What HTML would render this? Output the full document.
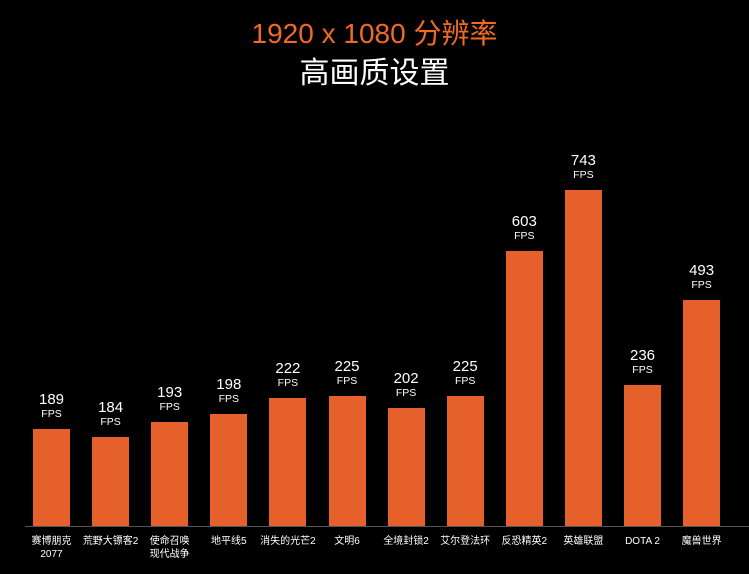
<!DOCTYPE html>
<html><head><meta charset="utf-8"><style>
body{margin:0;width:749px;height:574px;background:#000;position:relative;overflow:hidden;font-family:"Liberation Sans","Noto Sans CJK SC",sans-serif;}
.t{position:absolute;left:0;width:749px;text-align:center;}
.bar{position:absolute;width:37px;background:#E5602A;}
.v{position:absolute;width:80px;text-align:center;color:#fff;font-size:15px;line-height:15px;}
.f{position:absolute;width:80px;text-align:center;color:#fff;font-size:10.5px;line-height:11px;}
.l{position:absolute;width:80px;text-align:center;color:#fff;font-size:10px;line-height:13px;top:535px;}
</style></head><body>
<div class="t" style="top:18px;font-size:28px;color:#F06A25;line-height:32px;">1920 x 1080 分辨率</div>
<div class="t" style="top:56px;font-size:30px;color:#fff;line-height:36px;">高画质设置</div>
<div style="position:absolute;left:25px;top:526px;width:724px;height:1px;background:#555;"></div>
<div id="c"></div>
<script>
var d=[[189,429,"赛博朋克<br>2077"],[184,437,"荒野大镖客2"],[193,422,"使命召唤<br>现代战争"],[198,414,"地平线5"],[222,398,"消失的光芒2"],[225,396,"文明6"],[202,408,"全境封锁2"],[225,396,"艾尔登法环"],[603,251,"反恐精英2"],[743,190,"英雄联盟"],[236,385,"DOTA 2"],[493,300,"魔兽世界"]];
var h="";
d.forEach(function(e,i){var x=33+i*59.1;var c=x+18.5;
h+='<div class="bar" style="left:'+x+'px;top:'+e[1]+'px;height:'+(526-e[1])+'px"></div>';
h+='<div class="v" style="left:'+(c-40)+'px;top:'+(e[1]-37)+'px">'+e[0]+'</div>';
h+='<div class="f" style="left:'+(c-40)+'px;top:'+(e[1]-20)+'px">FPS</div>';
h+='<div class="l" style="left:'+(c-40)+'px">'+e[2]+'</div>';});
document.getElementById("c").innerHTML=h;
</script>
</body></html>
